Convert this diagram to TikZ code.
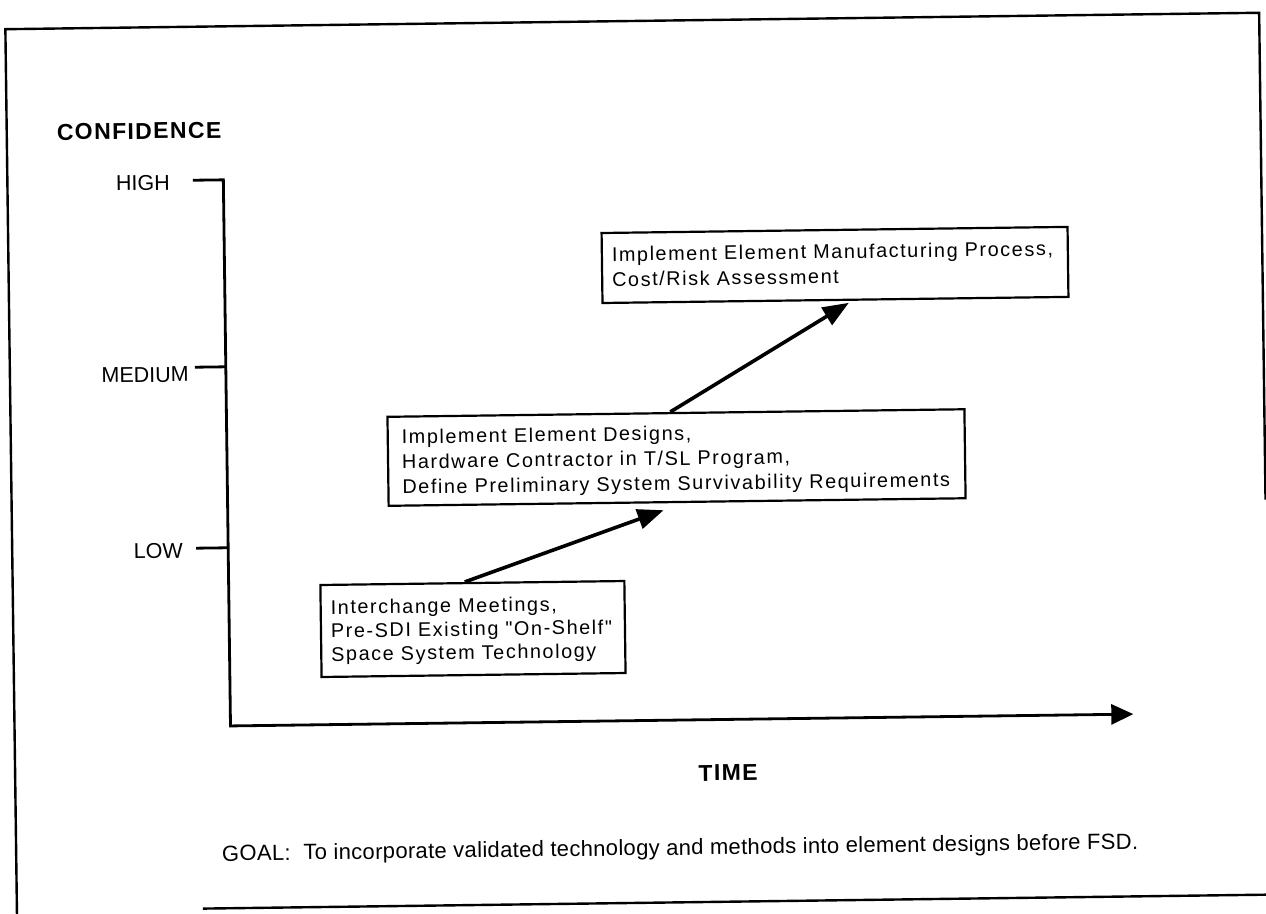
\documentclass[tikz,border=0pt]{standalone}
\usepackage{fontspec}
\setmainfont{Liberation Sans}
\newfontfamily\boxfont[LetterSpace=8]{Liberation Sans}
\newfontfamily\goalfont[LetterSpace=1.5]{Liberation Sans}
\newfontfamily\headfont[LetterSpace=6]{Liberation Sans}
\usetikzlibrary{arrows.meta,calc}
\begin{document}
\begin{tikzpicture}[x=1pt,y=-1pt,
  frameline/.style={line width=2.4pt, line join=miter},
  axisline/.style={line width=2.8pt, line join=miter},
  boxshape/.style={draw, line width=2.2pt, inner sep=0pt},
  boxtext/.style={inner sep=0pt, align=left, anchor=west, font=\boxfont\fontsize{19.8}{25}\selectfont},
  conn/.style={line width=3.6pt, -{Triangle[length=26pt,width=20pt]}},
  lbl/.style={inner sep=0pt, anchor=base east, font=\fontsize{21.5}{26}\selectfont},
  head/.style={inner sep=0pt, font=\headfont\bfseries\fontsize{23}{28}\selectfont}]
\useasboundingbox (0,0) rectangle (1266,913);
\fill[white] (0,0) rectangle (1266,913);
\begin{scope}[rotate around={0.75:(633,456)}, transform shape]
  % frame
  \coordinate (fLB) at (11,940);
  \coordinate (fTL) at (11,21);
  \coordinate (fTR) at (1265,21);
  \coordinate (fRB) at (1265,508);
  \coordinate (fBL) at (197,903);
  \coordinate (fBR) at (1285,903);
  \draw[frameline] (fLB) -- (fTL) -- (fTR) -- (fRB);
  \draw[frameline] (fBL) -- (fBR);

  % axes
  \coordinate (hiT) at (196.5,174.5);
  \coordinate (hiC) at (227,174.5);
  \coordinate (org) at (227,720.7);
  \coordinate (xend) at (1130,720.7);
  \coordinate (meT) at (196,361.5);
  \coordinate (loT) at (195,542.5);
  \draw[axisline, -{Triangle[length=22pt,width=20pt]}] (hiT) -- (hiC) -- (org) -- (xend);
  \draw[axisline] (meT) -- (meT -| org);
  \draw[axisline] (loT) -- (loT -| org);

  \node[head, anchor=base west] (conf) at (61,132.5) {CONFIDENCE};
  \node[lbl] (high) at (173.5,183.9) {HIGH};
  \node[lbl] (medium) at (190,375.9) {MEDIUM};
  \node[lbl] (low) at (181.7,552.1) {LOW};
  \node[head] (time) at (724,774) {TIME};
  \node[inner sep=0pt, anchor=base west, font=\goalfont\fontsize{22}{26}\selectfont] (goal) at (216.7,855.6)
    {GOAL:\ \ To incorporate validated technology and methods into element designs before FSD.};

  % boxes
  \node[boxshape, minimum width=466pt, minimum height=70pt] (mfg) at (837.5,267.6) {};
  \node[boxshape, minimum width=577pt, minimum height=89pt] (des) at (676.5,458.1) {};
  \node[boxshape, minimum width=304pt, minimum height=92pt] (int) at (470.7,626.9) {};

  \node[boxtext] (mfgT) at ($(mfg.west)+(11,-1)$)
    {Implement Element Manufacturing Process,\\Cost/Risk Assessment};
  \node[boxtext] (desT) at ($(des.west)+(15,2.5)$)
    {Implement Element Designs,\\Hardware Contractor in T/SL Program,\\Define Preliminary System Survivability Requirements};
  \node[boxtext, font=\boxfont\fontsize{19.8}{23.5}\selectfont] (intT) at ($(int.west)+(11,1.7)$)
    {Interchange Meetings,\\Pre-SDI Existing "On-Shelf"\\Space System Technology};

  % connectors
  \coordinate (a1s) at ($(int.north west)+(145.6,0)$);
  \coordinate (a1e) at ($(des.south west)+(276,7)$);
  \coordinate (a2s) at ($(des.north west)+(284,0)$);
  \coordinate (a2e) at ($(mfg.south west)+(247.5,2)$);
  \draw[conn] (a1s) -- (a1e);
  \draw[conn] (a2s) -- (a2e);
\end{scope}
\end{tikzpicture}
\end{document}
